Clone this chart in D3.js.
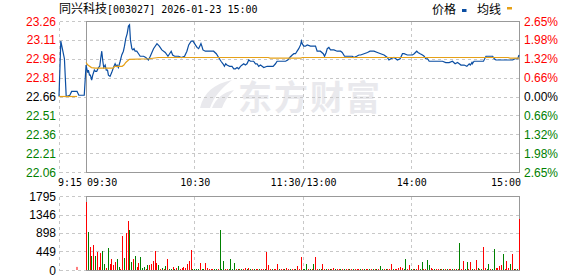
<!DOCTYPE html>
<html>
<head>
<meta charset="utf-8">
<script src="https://cdn.jsdelivr.net/npm/d3@7"></script>
<style>
  body { margin: 0; background: #fff; }
  svg { display: block; }
</style>
</head>
<body>
<div id="chart"></div>
<script>
const stockName = "同兴科技";
const stockInfo = "[003027] 2026-01-23 15:00";
const prevClose = 22.66;
const priceTicks = [23.26, 23.11, 22.96, 22.81, 22.66, 22.51, 22.36, 22.21, 22.06];
const pctTicks = ["2.65%", "1.98%", "1.32%", "0.66%", "0.00%", "0.66%", "1.32%", "1.98%", "2.65%"];
const volTicks = [1795, 1346, 898, 449, 0];
const timeTickMinutes = [-15, 0, 60, 120, 180, 240];
const timeTickLabels = ["9:15", "09:30", "10:30", "11:30/13:00", "14:00", "15:00"];

// minutes from 09:30 (lunch break collapsed), price
const priceMinutes = [-15, -14, -13, -12, -11, -9, -8, -5, -4, -1,
  0, 0.9, 1.3, 1.9, 2.4, 3.1, 3.7, 4.6, 5.2, 5.9, 6.9, 7.6, 8.1, 8.7, 9.3, 9.8, 10.6, 11.2, 11.9, 12.4,
  13.3, 14.2, 15.2, 16.1, 16.7, 17.2, 17.9, 18.9, 19.8, 20.7, 21.3, 22, 22.8, 23.5, 24.1, 24.6, 25.4, 26, 26.6, 27.2,
  28.1, 29.1, 30, 31.9, 33.1, 34.6, 35.6, 36.5, 37.4, 39.3, 40.6, 42, 43.9, 45.4, 46.3, 47.2, 48, 49.1, 51.3, 52.8,
  54.6, 55.9, 56.9, 58.3, 59.3, 60.6, 61.5, 62.4, 63.7, 64.2, 64.8, 66.1, 68.9, 70.7, 72.2, 73.5, 74.8, 75.9, 76.7, 77.4,
  78.1, 79.6, 80.9, 81.9, 82.8, 83.7, 84.6, 85.6, 86.5, 87.4, 88.3, 89.2, 90.2, 91.1, 92, 92.9, 93.9, 94.8, 95.7, 96.7,
  97.6, 98.5, 100.4, 102.2, 103.7, 105, 105.9, 107.4, 108.7, 110.6, 111.8, 112.9, 114.3, 115.2, 116.1, 117, 117.9, 118.9, 119.4, 119.8,
  120.7, 121.6, 122.6, 124.4, 125.9, 127.2, 128.1, 129.9, 131.5, 132.2, 133.1, 133.7, 134.6, 135.5, 137.4, 139.2, 141.1, 142, 143.3, 144.8,
  147.6, 148.5, 150, 151.3, 152.2, 154.1, 156, 157.4, 159.6, 161.5, 163.3, 165.2, 167, 167.9, 168.9, 170.7, 171.7, 172.6, 174.1, 175.4,
  176.3, 178.1, 180, 180.9, 181.9, 183.3, 184, 185.2, 186.5, 187.4, 188.3, 189.3, 190.2, 192, 193.9, 195.7, 197.6, 199.4, 201.3, 203.1,
  204.6, 205.9, 206.9, 207.8, 209.6, 211.1, 212.4, 213, 213.9, 214.1, 215.1, 217, 220.3, 221.7, 223.5, 225.4, 226.3, 227.2, 229.1, 230.9,
  232.8, 234.6, 236.5, 237.8, 239.3, 240];
const prices = [22.66, 23.10, 23.03, 22.96, 22.66, 22.67, 22.70, 22.70, 22.67, 22.67,
  22.91, 22.85, 22.87, 22.83, 22.83, 22.79, 22.83, 22.87, 22.86, 22.86, 22.89, 22.90, 22.96, 23.02, 22.94, 22.89, 22.91, 22.87, 22.87, 22.83,
  22.82, 22.85, 22.89, 22.92, 22.90, 22.91, 22.89, 22.94, 22.99, 23.02, 23.06, 23.12, 23.16, 23.22, 23.23, 23.11, 23.04, 23.03, 23.04, 23.02,
  23.02, 23.00, 22.98, 22.98, 22.97, 22.95, 22.98, 23.01, 23.04, 23.08, 23.06, 23.03, 23.01, 22.98, 23.00, 23.02, 22.99, 22.98, 22.98, 22.97,
  22.98, 23.02, 23.07, 23.10, 23.10, 23.07, 23.05, 23.04, 23.08, 23.06, 23.03, 23.02, 23.02, 23.02, 23.00, 22.97, 22.94, 22.92, 22.90, 22.92,
  22.91, 22.90, 22.90, 22.88, 22.88, 22.89, 22.88, 22.90, 22.91, 22.92, 22.91, 22.92, 22.95, 22.94, 22.94, 22.94, 22.92, 22.92, 22.90, 22.91,
  22.90, 22.89, 22.90, 22.90, 22.90, 22.92, 22.94, 22.94, 22.94, 22.94, 22.95, 22.97, 22.99, 23.00, 23.00, 23.02, 23.04, 23.07, 23.10, 23.08,
  23.06, 23.06, 23.07, 23.06, 23.06, 23.06, 23.02, 23.02, 23.00, 22.98, 23.01, 23.04, 23.05, 23.03, 23.03, 23.02, 23.02, 23.01, 22.98, 22.98,
  22.98, 22.97, 22.98, 22.99, 22.99, 23.00, 23.01, 23.02, 23.02, 23.01, 23.00, 22.99, 22.97, 22.95, 22.96, 22.97, 22.96, 22.95, 22.96, 23.00,
  23.00, 22.99, 22.99, 22.99, 23.00, 23.02, 23.01, 23.00, 22.99, 22.98, 22.96, 22.96, 22.94, 22.94, 22.94, 22.94, 22.94, 22.93, 22.93, 22.94,
  22.92, 22.93, 22.92, 22.91, 22.91, 22.90, 22.92, 22.91, 22.93, 22.92, 22.94, 22.94, 22.94, 22.98, 22.98, 22.98, 22.96, 22.95, 22.95, 22.95,
  22.95, 22.95, 22.95, 22.96, 22.96, 22.99];

// average price line (pre-market piece, then session)
const avgPreMinutes = [-15, -5];
const avgPrePrices = [22.66, 22.66];
const avgMinutes = [0, 1, 3, 5, 15, 16, 20, 21, 22, 24, 35, 40, 101, 102, 119, 120, 234, 235, 240];
const avgPrices = [22.93, 22.91, 22.89, 22.885, 22.885, 22.90, 22.90, 22.91, 22.93, 22.955, 22.96, 22.97, 22.97, 22.965, 22.965, 22.97, 22.97, 22.965, 22.965];

// auction volume at 09:25
const auctionMinute = -5;
const auctionVolume = 75;

// one bar per minute 09:30 .. 15:00 (241)
const volumes = [
  1648, 918, 552, 333, 600, 333, 430, 73, 410, 455,
  140, 50, 530, 140, 270, 120, 195, 268, 65, 16,
  820, 290, 895, 1185, 966, 190, 265, 335, 65, 160,
  309, 41, 65, 16, 114, 114, 138, 211, 455, 162,
  114, 16, 41, 16, 89, 260, 16, 16, 65, 16,
  41, 89, 16, 41, 65, 41, 138, 211, 479, 25,
  20, 20, 25, 175, 20, 20, 170, 50, 20, 25,
  20, 25, 30, 20, 965, 20, 215, 25, 20, 20,
  265, 25, 175, 25, 20, 25, 30, 20, 40, 20,
  40, 20, 25, 20, 25, 20, 25, 20, 25, 20,
  440, 114, 25, 20, 25, 25, 140, 20, 25, 20,
  25, 40, 20, 25, 20, 25, 20, 97, 20, 315,
  30, 20, 146, 25, 20, 25, 146, 315, 20, 25,
  25, 146, 20, 25, 20, 25, 20, 40, 25, 20,
  25, 20, 25, 20, 25, 20, 25, 20, 25, 20,
  25, 20, 25, 20, 25, 20, 25, 20, 25, 20,
  25, 20, 25, 92, 25, 20, 25, 30, 25, 140,
  25, 20, 25, 60, 80, 40, 20, 262, 25, 116,
  25, 20, 25, 20, 118, 25, 190, 20, 25, 240,
  118, 50, 20, 25, 20, 25, 20, 25, 20, 25,
  20, 25, 20, 25, 20, 25, 20, 652, 25, 215,
  25, 190, 20, 190, 25, 20, 240, 40, 20, 25,
  555, 50, 25, 142, 25, 20, 506, 40, 50, 100,
  120, 385, 25, 215, 50, 142, 385, 25, 20, 25,
  1236
];
// r = up minute, g = down minute
const volColors = (
  "rgrgrgrrrg grgrrrrggr rgrrggrgrr gggrgrrrrr grgrgrggrg rgrrrrrrrg " +
  "gggrggrrrr rggrgggrrg gggrgrgrrg rgrgrrgrrg rrrgrrrgrr grrgrrgrrr " +
  "gggrgrgrrg grrgrgrrgr rgrgrrgrgr rrgrgrrgrg rgrggrgrrr grrrrrggrr " +
  "grgrrggrrg grrgrrgrgr grrgrgrgrr ggrrgrrgrg rrggrggrrr rgrrrgrgrg r"
).replace(/ /g, "").split("");

const W = 578, H = 276;
const RED = "#ff0000", GREEN = "#008000";
const labelFont = "'Liberation Sans', Arial, sans-serif";
const monoFont = "'DejaVu Sans Mono', monospace";
const cjkFont = "'Noto Sans CJK SC', sans-serif";

const svg = d3.select("#chart").append("svg").attr("width", W).attr("height", H);

const x = d3.scaleLinear().domain([-15, 240]).range([59, 519]);
const yP = d3.scaleLinear().domain([22.06, 23.26]).range([172, 21]);
const yV = d3.scaleLinear().domain([0, 1795]).range([270, 196]);
const px = v => Math.round(v) + 0.5;

const left = px(x(-15)), boxL = px(x(0)), boxR = px(x(240));

// watermark
const wm = svg.append("g").attr("fill", "#e9e9ed");
wm.append("text")
  .attr("x", 238).attr("y", 110)
  .attr("font-family", cjkFont).attr("font-weight", "bold")
  .attr("font-size", 34).attr("letter-spacing", 2)
  .text("东方财富");
wm.append("path").attr("d", "M200,108 C204,92 214,84 232,80 C222,88 214,96 210,108 Z");
wm.append("path").attr("d", "M212,108 C216,98 224,92 234,90 C228,96 224,102 222,108 Z");

// grids
const grid = svg.append("g")
  .attr("stroke", "#c8c8c8").attr("stroke-dasharray", "3,3")
  .attr("shape-rendering", "crispEdges");

grid.selectAll("line.h").data(priceTicks).join("line")
  .attr("x1", left).attr("x2", boxR)
  .attr("y1", d => px(yP(d))).attr("y2", d => px(yP(d)));
grid.selectAll("line.hv").data(volTicks).join("line")
  .attr("x1", left).attr("x2", boxR)
  .attr("y1", d => px(yV(d))).attr("y2", d => px(yV(d)));
grid.selectAll("line.v").data([-15, 60, 120, 180]).join("line")
  .attr("x1", d => px(x(d))).attr("x2", d => px(x(d)))
  .attr("y1", px(yP(23.26))).attr("y2", px(yP(22.06)));
grid.selectAll("line.vv").data([-15, 60, 120, 180]).join("line")
  .attr("x1", d => px(x(d))).attr("x2", d => px(x(d)))
  .attr("y1", px(yV(1795))).attr("y2", px(yV(0)));

// boxes
const frame = svg.append("g")
  .attr("fill", "none").attr("stroke", "#999").attr("shape-rendering", "crispEdges");
frame.append("rect")
  .attr("x", boxL).attr("y", px(yP(23.26)))
  .attr("width", boxR - boxL).attr("height", px(yP(22.06)) - px(yP(23.26)));
frame.append("rect")
  .attr("x", boxL).attr("y", px(yV(1795)))
  .attr("width", boxR - boxL).attr("height", px(yV(0)) - px(yV(1795)));

// volume bars
const barH = v => Math.max(1, yV(0) - yV(v));
svg.append("g").attr("shape-rendering", "crispEdges")
  .selectAll("rect").data(volumes).join("rect")
  .attr("x", (d, i) => Math.round(x(i)) - 0.5)
  .attr("width", 1)
  .attr("y", d => Math.round(yV(0)) - barH(d))
  .attr("height", d => barH(d))
  .attr("fill", (d, i) => volColors[i] === "r" ? RED : GREEN);
svg.append("rect")
  .attr("x", Math.round(x(auctionMinute)) - 0.5).attr("width", 1)
  .attr("y", Math.round(yV(0)) - barH(auctionVolume)).attr("height", barH(auctionVolume))
  .attr("fill", RED);

// price + average lines
const line = d3.line().x(d => x(d[0])).y(d => yP(d[1]));
svg.append("path")
  .datum(d3.zip(priceMinutes, prices))
  .attr("d", line)
  .attr("fill", "none").attr("stroke", "#0b4ea2").attr("stroke-width", 1.2);
[[avgPreMinutes, avgPrePrices], [avgMinutes, avgPrices]].forEach(([m, p]) => {
  svg.append("path")
    .datum(d3.zip(m, p))
    .attr("d", line)
    .attr("fill", "none").attr("stroke", "#e6a117").attr("stroke-width", 1.2);
});

// price axis labels
const tickColor = v => Math.abs(v - prevClose) < 1e-6 ? "#000" : (v > prevClose ? RED : GREEN);
svg.append("g").attr("font-family", labelFont).attr("font-size", 12)
  .selectAll("text").data(priceTicks).join("text")
  .attr("x", 56).attr("y", d => yP(d) + 4.5)
  .attr("text-anchor", "end")
  .attr("fill", tickColor)
  .text(d => d.toFixed(2));
svg.append("g").attr("font-family", labelFont).attr("font-size", 12)
  .selectAll("text").data(pctTicks).join("text")
  .attr("x", 524).attr("y", (d, i) => yP(priceTicks[i]) + 4.5)
  .attr("fill", (d, i) => tickColor(priceTicks[i]))
  .text(d => d);
svg.append("g").attr("font-family", labelFont).attr("font-size", 12)
  .selectAll("text").data(volTicks).join("text")
  .attr("x", 56).attr("y", d => yV(d) + 4.5)
  .attr("text-anchor", "end").attr("fill", "#000")
  .text(d => d);

// time labels
svg.append("g").attr("font-family", monoFont).attr("font-size", 10).attr("fill", "#000")
  .selectAll("text").data(timeTickMinutes).join("text")
  .attr("x", (d, i) => i === 0 ? x(d) - 1 : i === 1 ? x(d) + 1 : i === timeTickMinutes.length - 1 ? x(d) + 2 : x(d) + 1)
  .attr("y", 186)
  .attr("text-anchor", (d, i) => i < 2 ? "start" : i === timeTickMinutes.length - 1 ? "end" : "middle")
  .text((d, i) => timeTickLabels[i]);

// title
const title = svg.append("text").attr("x", 59).attr("y", 13).attr("fill", "#000");
title.append("tspan").attr("font-family", cjkFont).attr("font-size", 12).text(stockName);
title.append("tspan").attr("font-family", monoFont).attr("font-size", 10).text(stockInfo);

// legend
const legend = svg.append("g").attr("font-family", cjkFont).attr("font-size", 12).attr("fill", "#000");
legend.append("text").attr("x", 432).attr("y", 13.5).text("价格");
legend.append("rect").attr("x", 462).attr("y", 9).attr("width", 4.5).attr("height", 3).attr("fill", "#0b4ea2");
legend.append("text").attr("x", 477).attr("y", 13.5).text("均线");
legend.append("rect").attr("x", 507).attr("y", 7).attr("width", 5).attr("height", 2.5).attr("fill", "#e6a117");
</script>
</body>
</html>
